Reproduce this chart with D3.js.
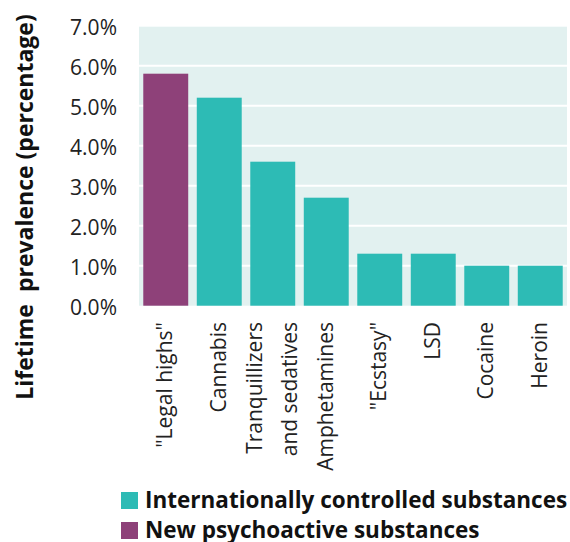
<!DOCTYPE html>
<html><head><meta charset="utf-8">
<script src="https://cdn.jsdelivr.net/npm/d3@7"></script>
<style>body{margin:0;background:#fff}svg{display:block}text{font-family:"Open Sans",sans-serif}</style>
</head><body>
<svg id="c" width="570" height="542"></svg>
<script>
const categories = [["\"Legal highs\""],["Cannabis"],["Tranquillizers","and sedatives"],["Amphetamines"],["\"Ecstasy\""],["LSD"],["Cocaine"],["Heroin"]];
const values = [5.8, 5.2, 3.6, 2.7, 1.3, 1.3, 1.0, 1.0];
const groups = ["nps","icd","icd","icd","icd","icd","icd","icd"];
const yTicks = [0,1,2,3,4,5,6,7];
const legendLabels = ["Internationally controlled substances","New psychoactive substances"];
const legendKeys = ["icd","nps"];
const colors = {icd:"#2dbbb5", nps:"#8e4179"};

const svg = d3.select("#c");
const L=139, R=567, T=25.7, B=305.7;
const x = d3.scaleBand().domain(d3.range(categories.length)).range([L,R]).paddingInner(0.16).paddingOuter(0.08);
const y = d3.scaleLinear().domain([0,7]).range([B,T]);

svg.append("rect").attr("x",L).attr("y",y(7)+1).attr("width",R-L).attr("height",B-y(7)-1).attr("fill","#e2f1f0");
svg.selectAll(".grid").data(yTicks.slice(1,7)).join("line")
  .attr("x1",L).attr("x2",R).attr("y1",d=>y(d)).attr("y2",d=>y(d))
  .attr("stroke","#fff").attr("stroke-width",2);

svg.selectAll(".bar").data(values).join("rect")
  .attr("x",(d,i)=>x(i)).attr("width",x.bandwidth())
  .attr("y",d=>y(d)).attr("height",d=>B-y(d))
  .attr("fill",(d,i)=>colors[groups[i]]);

const yAxis = svg.append("g").attr("transform",`translate(${L},0)`)
  .call(d3.axisLeft(y).tickValues(yTicks).tickFormat(d=>d.toFixed(1)+"%").tickSize(0).tickPadding(22));
yAxis.select(".domain").remove();
yAxis.selectAll("text").attr("font-size",21).attr("fill","#222").attr("font-family","'DejaVu Sans',sans-serif").attr("dy","0.4em");

svg.append("text").attr("transform","translate(33,207) rotate(-90)")
  .attr("text-anchor","middle").attr("font-size",23).attr("font-weight",700).attr("fill","#111")
  .style("white-space","pre").text("Lifetime  prevalence (percentage)");

categories.forEach((lines,i)=>{
  const cx = x(i)+x.bandwidth()/2;
  const n = lines.length;
  lines.forEach((ln,j)=>{
    const off = (j-(n-1)/2)*35;
    svg.append("text").attr("transform",`translate(${cx+off+6.5},322) rotate(-90)`)
      .attr("text-anchor","end").attr("font-size",21).attr("fill","#222").text(ln);
  });
});

legendKeys.forEach((k,i)=>{
  const yy = 492 + i*30;
  svg.append("rect").attr("x",121).attr("y",yy).attr("width",17).attr("height",17).attr("fill",colors[k]);
  svg.append("text").attr("x",145).attr("y",yy+15.5).attr("font-size",22.5).attr("font-weight",700).attr("fill","#111").text(legendLabels[i]);
});
</script>
</body></html>
